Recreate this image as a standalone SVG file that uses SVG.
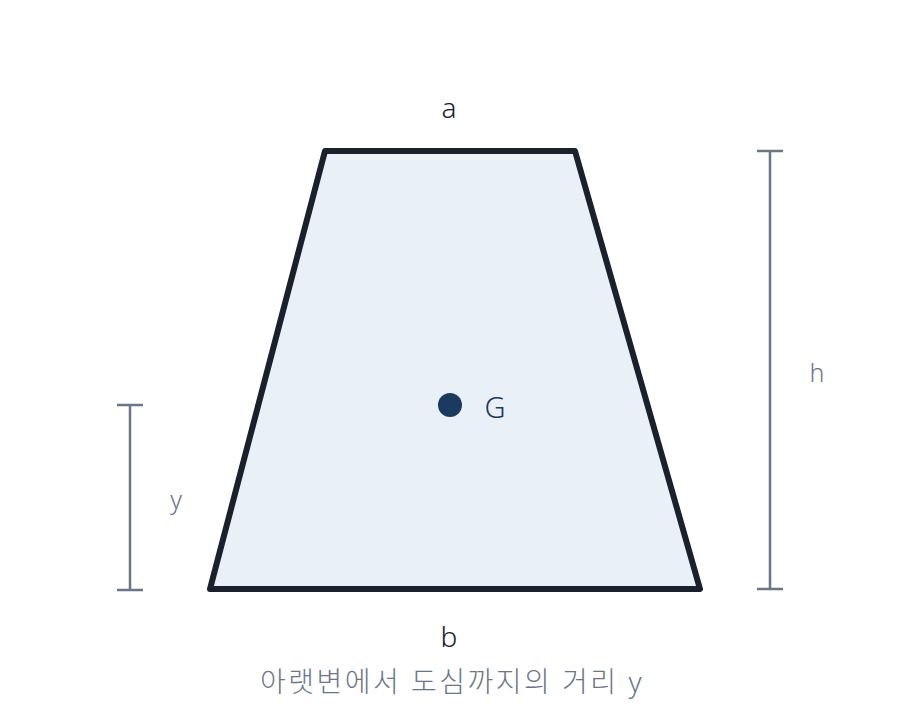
<svg xmlns="http://www.w3.org/2000/svg" width="900" height="720" viewBox="0 0 900 720">
<style>
.lbl{font-family:"Noto Sans","Noto Sans CJK KR",sans-serif;text-anchor:middle;dominant-baseline:central;font-weight:300}
.dark{fill:#1a202c;font-size:28px}
.dim{fill:#6b7588;font-size:25px}
.cap{fill:#6b7588;font-size:28px;letter-spacing:2.5px}
.dl{stroke:#6b7588;stroke-width:2.5;fill:none}
</style>
<rect width="900" height="720" fill="#ffffff"/>
<g id="trapezoid">
<polygon points="325,151 575,151 700,589 210,589" fill="#e9f0f7" stroke="#1a202c" stroke-width="6" stroke-linejoin="round"/>
</g>
<g id="centroid">
<circle cx="450" cy="405" r="12" fill="#1b3a5e"/>
<text class="lbl" x="495" y="406" font-size="29" fill="#1b3a5e">G</text>
</g>
<g id="label-a"><text class="lbl dark" x="449" y="107">a</text></g>
<g id="label-b"><text class="lbl dark" x="449" y="636">b</text></g>
<g id="connectors">
<g id="dim-h">
<line class="dl" x1="770" y1="151" x2="770" y2="589"/>
<line class="dl" x1="757" y1="151" x2="783" y2="151"/>
<line class="dl" x1="757" y1="589" x2="783" y2="589"/>
</g>
<g id="dim-y">
<line class="dl" x1="130" y1="405" x2="130" y2="590"/>
<line class="dl" x1="117" y1="405" x2="143" y2="405"/>
<line class="dl" x1="117" y1="590" x2="143" y2="590"/>
</g>
</g>
<g id="label-h"><text class="lbl dim" x="817" y="372">h</text></g>
<g id="label-y"><text class="lbl dim" x="176" y="499">y</text></g>
<g id="caption"><text class="lbl cap" x="452" y="681">아랫변에서 도심까지의 거리 y</text></g>
</svg>
